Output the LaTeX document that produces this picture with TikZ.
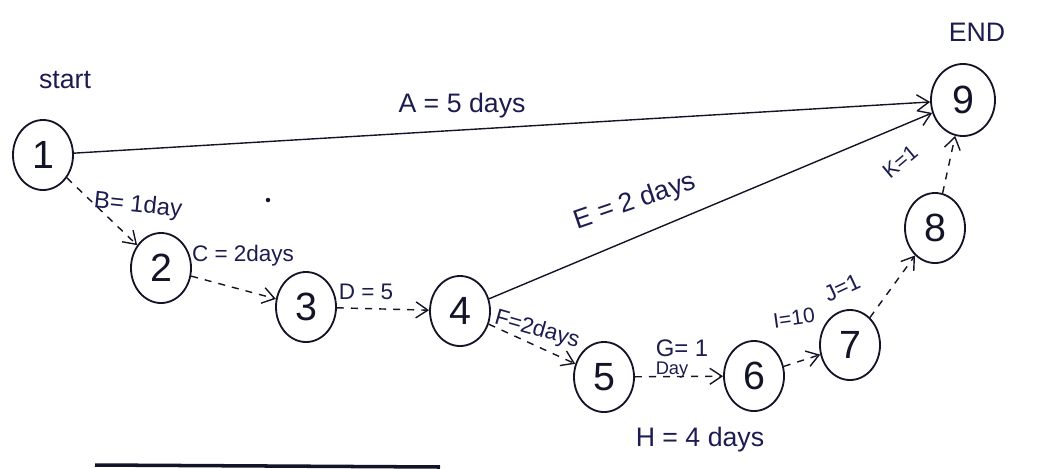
\documentclass[tikz,border=0pt]{standalone}
\usepackage{fontspec}
\setmainfont{Liberation Sans}
\usetikzlibrary{arrows.meta,shapes.geometric}
\definecolor{ink}{RGB}{28,28,80}
\definecolor{pen}{RGB}{20,20,40}
\tikzset{
  ev/.style={ellipse,draw=pen,line width=1.3pt,minimum width=1.5cm,minimum height=1.75cm,inner sep=0pt,font=\fontsize{28}{30}\selectfont,text=pen},
  lbl/.style={font=\fontsize{19}{22}\selectfont,text=ink,inner sep=0pt},
  act/.style={draw=pen,line width=1pt,-{Straight Barb[length=3mm,width=4mm]}},
  dum/.style={act,dashed,dash pattern=on 5pt off 5pt}
}
\begin{document}
\begin{tikzpicture}[x=0.025cm,y=-0.025cm]
\useasboundingbox (0,0) rectangle (1046,468);
% events
\node[ev] (n1) at (43,155) {1};
\node[ev] (n2) at (161,268) {2};
\node[ev] (n3) at (306,307) {3};
\node[ev] (n4) at (460,311) {4};
\node[ev] (n5) at (604,377) {5};
\node[ev] (n6) at (754,376) {6};
\node[ev] (n7) at (850,345) {7};
\node[ev] (n8) at (935,228) {8};
\node[ev,minimum width=1.6cm,minimum height=1.8cm] (n9) at (963,100) {9};
% titles
\node[lbl] (tstart) at (65,80) {start};
\node[lbl] (tend) at (977,32) {END};
% activities
\draw[act] (n1) -- (n9);
\draw[dum] (n1) -- (n2);
\draw[dum] (n2) -- (n3);
\draw[dum] (n3) -- (n4);
\draw[act] (n4) -- (n9);
\draw[dum] (n4) -- (n5);
\draw[dum] (n5) -- (n6);
\draw[dum] (n6) -- (n7);
\draw[dum] (n7) -- (n8);
\draw[dum] (n8) -- (n9);
% labels
\node[lbl] (la) at (462,106) {A = 5 days};
\node[lbl,rotate=-6,font=\fontsize{17}{20}\selectfont] (lb) at (138,206) {B= 1day};
\node[lbl,font=\fontsize{16}{18}\selectfont] (lc) at (243,256) {C = 2days};
\node[lbl,font=\fontsize{16}{18}\selectfont] (ld) at (366,292) {D = 5};
\node[lbl,rotate=19] (le) at (635,202) {E = 2 days};
\node[lbl,rotate=-16,font=\fontsize{16}{18}\selectfont] (lf) at (537,330) {F=2days};
\node[lbl,font=\fontsize{17}{20}\selectfont] (lg) at (682,348) {G= 1};
\node[lbl,font=\fontsize{13}{15}\selectfont] (lg2) at (672,370) {Day};
\node[lbl] (lh) at (700,440) {H = 4 days};
\node[lbl,rotate=8,font=\fontsize{15}{18}\selectfont] (li) at (794,318) {I=10};
\node[lbl,rotate=25,font=\fontsize{16}{18}\selectfont] (lj) at (842,288) {J=1};
\node[lbl,rotate=40,font=\fontsize{15}{18}\selectfont] (lk) at (900,162) {K=1};
% stray marks
\fill[pen] (268,200) circle (1.6pt);
\draw[pen,line width=2.5pt] (95,465) -- (440,467);
\end{tikzpicture}
\end{document}
